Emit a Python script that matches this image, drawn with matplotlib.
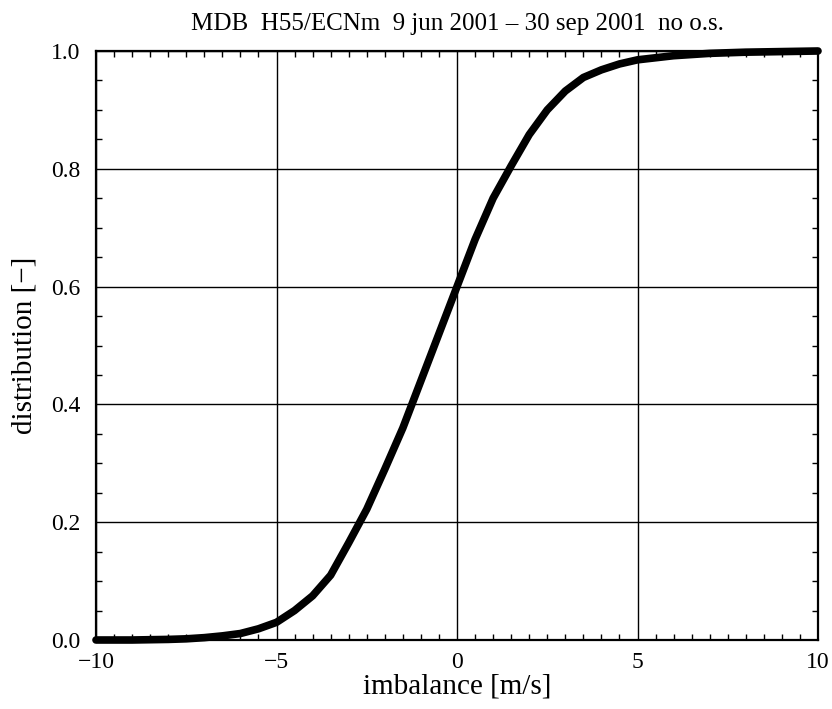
import numpy as np
import matplotlib
matplotlib.use("Agg")
from matplotlib import pyplot as plt
from matplotlib.ticker import MultipleLocator

# cumulative distribution of imbalance
imbalance = [-10, -9, -8, -7.5, -7, -6.5, -6, -5.5, -5, -4.5, -4, -3.5, -3,
             -2.5, -2, -1.5, -1, -0.5, 0, 0.5, 1, 1.5, 2, 2.5, 3, 3.5, 4,
             4.5, 5, 6, 7, 8, 9, 10]
distribution = [0.0, 0.0, 0.001, 0.002, 0.004, 0.007, 0.011, 0.019, 0.030,
                0.050, 0.075, 0.110, 0.165, 0.222, 0.290, 0.360, 0.440,
                0.520, 0.600, 0.680, 0.750, 0.805, 0.858, 0.900, 0.932,
                0.955, 0.968, 0.978, 0.985, 0.992, 0.996, 0.998, 0.999, 1.0]

title = "MDB  H55/ECNm  9 jun 2001 \u2013 30 sep 2001  no o.s."

plt.rcParams['font.family'] = ['Liberation Serif', 'DejaVu Serif']
plt.rcParams['axes.unicode_minus'] = True

fig = plt.figure(figsize=(8.32, 7.09), dpi=100)
ax = fig.add_axes([96/832, 1-640/709, 722/832, 589/709])

ax.plot(imbalance, distribution, color='black', lw=5.5,
        solid_capstyle='round', solid_joinstyle='round', zorder=3,
        clip_on=False)

ax.set_xlim(-10, 10)
ax.set_ylim(0, 1)
ax.xaxis.set_major_locator(MultipleLocator(5))
ax.xaxis.set_minor_locator(MultipleLocator(0.5))
ax.yaxis.set_major_locator(MultipleLocator(0.2))
ax.yaxis.set_minor_locator(MultipleLocator(0.05))
ax.yaxis.set_major_formatter(plt.FormatStrFormatter('%.1f'))

ax.grid(True, which='major', color='black', lw=1.0)
ax.tick_params(which='both', direction='in', top=True, right=True,
               labelsize=17, width=1.0, color='black')
ax.tick_params(which='major', length=0)
ax.tick_params(axis='x', which='major', pad=9)
ax.tick_params(axis='y', which='major', pad=11)
ax.tick_params(which='minor', length=4)
for s in ax.spines.values():
    s.set_linewidth(1.6)

ax.set_xlabel("imbalance [m/s]", fontsize=21, labelpad=0)
ax.set_ylabel("distribution [\u2212]", fontsize=21, labelpad=10)
ax.set_title(title, fontsize=18, pad=15)

fig.savefig("out.png", dpi=100)
